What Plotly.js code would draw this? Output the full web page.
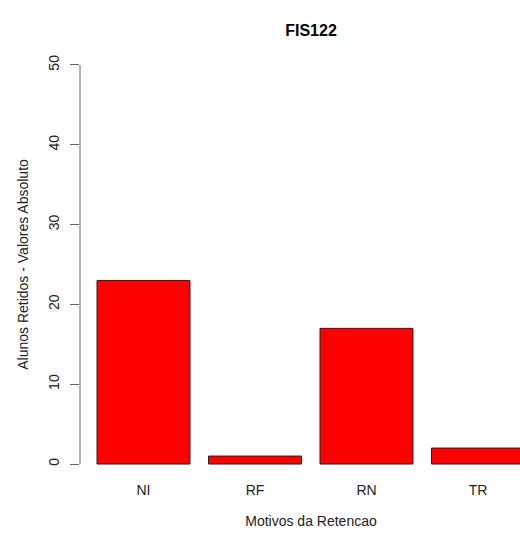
<!DOCTYPE html>
<html>
<head>
<meta charset="utf-8">
<script src="https://cdn.plot.ly/plotly-3.0.1.min.js"></script>
<style>
html, body { margin: 0; padding: 0; overflow: hidden; background: #fff; width: 520px; height: 533px; }
#chart { width: 542px; height: 533px; }
</style>
</head>
<body>
<div id="chart"></div>
<script>
const categories = ["NI", "RF", "RN", "TR"];
const values = [23, 1, 17, 2];
const yTicks = [0, 10, 20, 30, 40, 50];
const chartTitle = "FIS122";
const xTitle = "Motivos da Retencao";
const yTitle = "Alunos Retidos - Valores Absoluto";

const font = "Liberation Sans, Arial, Helvetica, sans-serif";

const trace = {
  type: "bar",
  x: categories,
  y: values,
  marker: { color: "#ff0000", line: { color: "#222", width: 1 } },
  hoverinfo: "x+y"
};

const layout = {
  width: 542,
  height: 533,
  margin: { l: 80, r: 0, t: 49, b: 53, pad: 0 },
  paper_bgcolor: "#fff",
  plot_bgcolor: "#fff",
  showlegend: false,
  bargap: 0.166,
  font: { family: font, size: 14, color: "#222" },
  title: {
    text: "<b>" + chartTitle + "</b>",
    font: { family: font, size: 16, color: "#000" },
    x: 0.5, xref: "paper", xanchor: "center",
    y: 1 - 30 / 533, yref: "container", yanchor: "middle"
  },
  xaxis: {
    type: "category",
    range: [-0.5695, 3.574],
    showline: false, showgrid: false, zeroline: false,
    ticks: "",
    tickfont: { family: font, size: 14, color: "#222" },
    title: { text: xTitle, font: { family: font, size: 14, color: "#222" }, standoff: 19 },
    automargin: false,
    fixedrange: true
  },
  yaxis: {
    range: [-2, 52],
    tickvals: yTicks,
    ticktext: yTicks.map(String),
    tickangle: -90,
    ticks: "outside", ticklen: 9, tickwidth: 1, tickcolor: "#666",
    ticklabelstandoff: 5,
    showline: false, showgrid: false, zeroline: false,
    tickfont: { family: font, size: 14, color: "#222" },
    title: { text: yTitle, font: { family: font, size: 14, color: "#222" }, standoff: 14 },
    automargin: false,
    fixedrange: true
  },
  shapes: [{
    type: "line", xref: "paper", yref: "y",
    x0: 0, x1: 0, y0: yTicks[0], y1: yTicks[yTicks.length - 1],
    line: { color: "#666", width: 1 }
  }]
};

Plotly.newPlot("chart", [trace], layout, { displayModeBar: false, staticPlot: true });
</script>
</body>
</html>
